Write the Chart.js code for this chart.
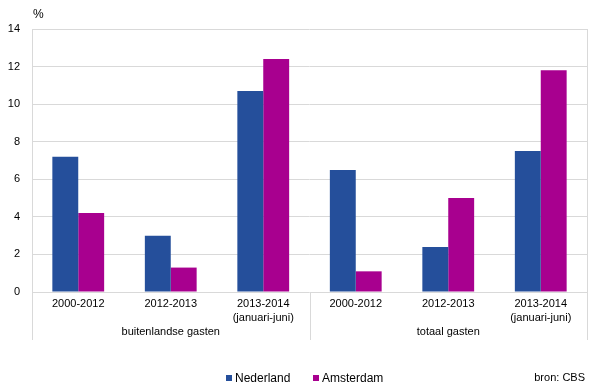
<!DOCTYPE html>
<html>
<head>
<meta charset="utf-8">
<script src="https://cdn.jsdelivr.net/npm/chart.js@4"></script>
<style>
  body { margin: 0; background: #fff; }
  #wrap { width: 600px; height: 392px; }
</style>
</head>
<body>
<div id="wrap"><canvas id="chart" width="600" height="392"></canvas></div>
<script>
// data
const categories = [
  ['2000-2012'], ['2012-2013'], ['2013-2014', '(januari-juni)'],
  ['2000-2012'], ['2012-2013'], ['2013-2014', '(januari-juni)']
];
const groups = ['buitenlandse gasten', 'totaal gasten'];
const groupSize = 3;
const nederland = [7.2, 3.0, 10.7, 6.5, 2.4, 7.5];
const amsterdam = [4.2, 1.3, 12.4, 1.1, 5.0, 11.8];
const yMin = 0, yMax = 14, yStep = 2;

const FONT = '"Liberation Sans", Arial, sans-serif';
const GRID = '#d9d9d9';

// extra drawing: separators, group labels, unit, legend, source
const extras = {
  id: 'extras',
  afterDraw(chart) {
    const ctx = chart.ctx;
    const x = chart.scales.x;
    const area = chart.chartArea;
    const catW = x.getPixelForValue(1) - x.getPixelForValue(0);
    const sepBottom = 340;

    ctx.save();
    ctx.strokeStyle = GRID;
    ctx.lineWidth = 1;
    for (let i = 0; i <= categories.length; i += groupSize) {
      const px = Math.round(x.getPixelForValue(i) - catW / 2) + 0.5;
      const top = (i === 0 || i === categories.length) ? area.top : area.bottom;
      ctx.beginPath();
      ctx.moveTo(px, top);
      ctx.lineTo(px, sepBottom);
      ctx.stroke();
    }

    ctx.fillStyle = '#000';
    ctx.font = '11px ' + FONT;
    ctx.textAlign = 'center';
    ctx.textBaseline = 'middle';
    groups.forEach((g, gi) => {
      const a = x.getPixelForValue(gi * groupSize);
      const b = x.getPixelForValue(gi * groupSize + groupSize - 1);
      ctx.fillText(g, (a + b) / 2, 332);
    });

    // unit label
    ctx.font = '12px ' + FONT;
    ctx.textAlign = 'left';
    ctx.fillText('%', 33, 15);

    // legend
    const ly = 378;
    const items = chart.data.datasets;
    ctx.font = '12px ' + FONT;
    const starts = [226, 313];
    items.forEach((ds, i) => {
      ctx.fillStyle = ds.backgroundColor;
      ctx.fillRect(starts[i], ly - 3, 6, 6);
      ctx.fillStyle = '#000';
      ctx.textAlign = 'left';
      ctx.fillText(ds.label, starts[i] + 9, ly + 1);
    });

    // source
    ctx.font = '11px ' + FONT;
    ctx.textAlign = 'right';
    ctx.fillText('bron: CBS', 585, ly);
    ctx.restore();
  }
};

new Chart(document.getElementById('chart'), {
  type: 'bar',
  data: {
    labels: categories,
    datasets: [
      { label: 'Nederland', data: nederland, backgroundColor: '#254f9b' },
      { label: 'Amsterdam', data: amsterdam, backgroundColor: '#a8008f' }
    ]
  },
  options: {
    responsive: false,
    animation: false,
    events: [],
    layout: { padding: { top: 29, left: 0, right: 13, bottom: 0 } },
    datasets: { bar: { categoryPercentage: 0.56, barPercentage: 1.0 } },
    plugins: { legend: { display: false }, tooltip: { enabled: false } },
    scales: {
      x: {
        grid: { display: false, drawTicks: false },
        border: { display: false },
        ticks: {
          color: '#000',
          font: { family: FONT, size: 11, lineHeight: 1.25 },
          padding: 5,
          maxRotation: 0,
          autoSkip: false
        },
        afterFit(scale) { scale.height = 100; }
      },
      y: {
        min: yMin,
        max: yMax,
        grid: { color: GRID, drawTicks: false },
        border: { display: false },
        ticks: {
          stepSize: yStep,
          color: '#000',
          font: { family: FONT, size: 11 },
          padding: 12
        },
        afterFit(scale) { scale.width = 32; }
      }
    }
  },
  plugins: [extras]
});
</script>
</body>
</html>
